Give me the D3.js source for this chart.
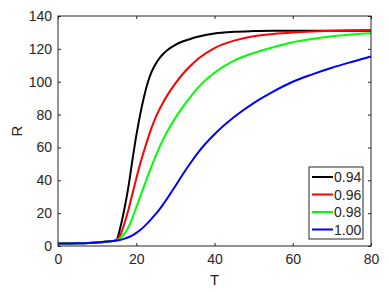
<!DOCTYPE html>
<html>
<head>
<meta charset="utf-8">
<script src="https://cdn.jsdelivr.net/npm/d3@7"></script>
<style>
  body { margin: 0; background: #fff; }
  text { font-family: "Liberation Sans", Arial, sans-serif; fill: #262626; }
</style>
</head>
<body>
<svg id="svg1"></svg>
<script>
// data
const tValues = [0, 5, 10, 14, 15, 16, 17, 18, 19, 20, 21, 22, 23, 24, 25, 26, 27, 28, 30, 32, 34, 36, 40, 45, 50, 55, 60, 65, 70, 75, 80];
const r094 = [1.5, 1.7, 2.2, 3.0, 4.0, 12, 23, 36, 52, 67, 80, 91, 100, 106.5, 111, 114.5, 117.2, 119.3, 122.4, 124.6, 126.2, 127.5, 129.4, 130.4, 130.8, 131, 131, 131, 131, 131, 131];
const r096 = [1.5, 1.7, 2.2, 3.0, 3.8, 7, 14, 22, 31.5, 41, 50, 58, 65.5, 72.5, 78.5, 83.5, 88, 92, 99, 105, 110, 114.3, 120.5, 125, 127.7, 129.1, 130, 130.6, 131, 131.3, 131.5];
const r098 = [1.5, 1.7, 2.2, 3.0, 3.5, 5, 7.5, 11.5, 17, 23.5, 30, 36.5, 43, 49, 55, 60.5, 65.5, 70, 78, 85, 91.3, 97, 105.5, 112.8, 117.5, 121, 124, 126, 127.7, 128.8, 129.5];
const r100 = [1.5, 1.7, 2.2, 3.0, 3.3, 3.8, 4.5, 5.3, 6.5, 8, 9.7, 11.8, 14.2, 16.8, 19.5, 22.5, 25.8, 29.2, 36.5, 44, 51, 57.5, 68, 78.5, 87, 94, 100, 104.5, 108.5, 112, 115.3];
const seriesNames = ["0.94", "0.96", "0.98", "1.00"];
const seriesColors = ["#000000", "#ff0000", "#00ff00", "#0000ff"];
const xTicks = [0, 20, 40, 60, 80];
const yTicks = [0, 20, 40, 60, 80, 100, 120, 140];

const allSeries = [r094, r096, r098, r100];

// layout
const margin = {top: 16, right: 18, bottom: 46, left: 58};
const W = 389, H = 292;
const width = W - margin.left - margin.right;
const height = H - margin.top - margin.bottom;

const svg = d3.select('#svg1')
    .attr('width', W)
    .attr('height', H)
    .append('g')
    .attr('transform', 'translate(' + margin.left + ',' + margin.top + ')');

const x = d3.scaleLinear().domain([0, 80]).range([0, width]);
const y = d3.scaleLinear().domain([0, 140]).range([height, 0]);

// curves
const line = d3.line()
    .x(function(d) { return x(d[0]); })
    .y(function(d) { return y(d[1]); })
    .curve(d3.curveMonotoneX);

allSeries.forEach(function(vals, i) {
  svg.append('path')
      .datum(tValues.map(function(t, j) { return [t, vals[j]]; }))
      .attr('fill', 'none')
      .attr('stroke', seriesColors[i])
      .attr('stroke-width', 2)
      .attr('d', line);
});

// axes, box style with inward ticks on all sides
const tickLen = 3;
function styleAxis(g) {
  g.select('.domain').remove();
  g.selectAll('.tick line').attr('stroke', '#262626');
  g.selectAll('.tick text').style('font-size', '14px').attr('fill', '#262626');
}

svg.append('g')
    .attr('transform', 'translate(0,' + height + ')')
    .call(d3.axisBottom(x).tickValues(xTicks).tickSizeInner(-tickLen).tickPadding(8))
    .call(styleAxis);
svg.append('g')
    .call(d3.axisTop(x).tickValues(xTicks).tickSizeInner(-tickLen).tickFormat(''))
    .call(styleAxis);
svg.append('g')
    .call(d3.axisLeft(y).tickValues(yTicks).tickSizeInner(-tickLen).tickPadding(6))
    .call(styleAxis);
svg.append('g')
    .attr('transform', 'translate(' + width + ',0)')
    .call(d3.axisRight(y).tickValues(yTicks).tickSizeInner(-tickLen).tickFormat(''))
    .call(styleAxis);

svg.append('rect')
    .attr('width', width)
    .attr('height', height)
    .attr('fill', 'none')
    .attr('stroke', '#262626')
    .attr('stroke-width', 1);

// axis labels
svg.append('text')
    .attr('x', width / 2)
    .attr('y', height + 39)
    .attr('text-anchor', 'middle')
    .style('font-size', '15px')
    .text('T');
svg.append('text')
    .attr('transform', 'translate(-36,' + (height / 2) + ')rotate(-90)')
    .attr('text-anchor', 'middle')
    .style('font-size', '15px')
    .text('R');

// legend
const legend = svg.append('g')
    .attr('transform', 'translate(' + (309 - margin.left) + ',' + (167 - margin.top) + ')');
legend.append('rect')
    .attr('width', 54)
    .attr('height', 72)
    .attr('fill', '#fff')
    .attr('stroke', '#262626')
    .attr('stroke-width', 1);
seriesNames.forEach(function(name, i) {
  const ly = 10 + i * 17.5;
  legend.append('line')
      .attr('x1', 3).attr('x2', 24)
      .attr('y1', ly).attr('y2', ly)
      .attr('stroke', seriesColors[i])
      .attr('stroke-width', 2);
  legend.append('text')
      .attr('x', 25)
      .attr('y', ly + 5)
      .style('font-size', '14px')
      .text(name);
});
</script>
</body>
</html>
